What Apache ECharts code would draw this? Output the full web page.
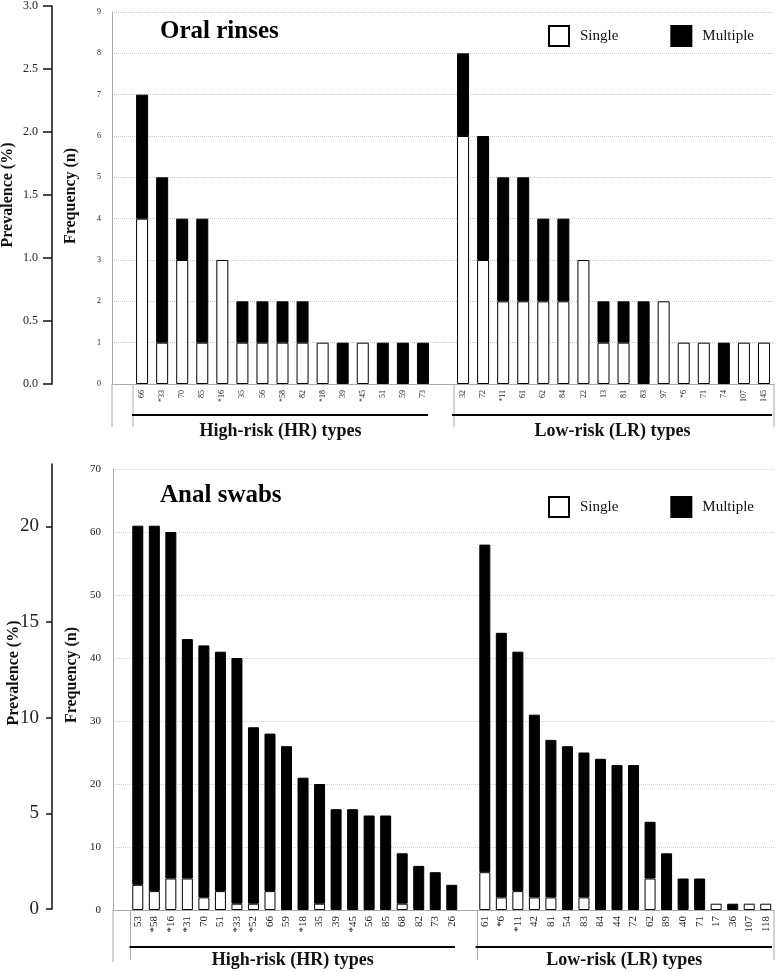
<!DOCTYPE html>
<html><head><meta charset="utf-8">
<script src="https://cdn.jsdelivr.net/npm/echarts@6/dist/echarts.min.js"></script>
<style>html,body{margin:0;padding:0;background:#fff}#c{width:778px;height:972px}</style>
</head><body><div id="c"></div><script>
// ---- Oral rinses ----
const oralHRTypes = ['66','*33','70','85','*16','35','56','*58','82','*18','39','*45','51','59','73'];
const oralHRSingle = [4,1,3,1,3,1,1,1,1,1,0,1,0,0,0];
const oralHRMultiple = [3,4,1,3,0,1,1,1,1,0,1,0,1,1,1];
const oralLRTypes = ['32','72','*11','61','62','84','22','13','81','83','97','*6','71','74','107','145'];
const oralLRSingle = [6,3,2,2,2,2,3,1,1,0,2,1,1,0,1,1];
const oralLRMultiple = [2,3,3,3,2,2,0,1,1,2,0,0,0,1,0,0];
// ---- Anal swabs ----
const analHRTypes = ['53','*58','*16','*31','70','51','*33','*52','66','59','*18','35','39','*45','56','85','68','82','73','26'];
const analHRSingle = [4,3,5,5,2,3,1,1,3,0,0,1,0,0,0,0,1,0,0,0];
const analHRMultiple = [57,58,55,38,40,38,39,28,25,26,21,19,16,16,15,15,8,7,6,4];
const analLRTypes = ['61','*6','*11','42','81','54','83','84','44','72','62','89','40','71','17','36','107','118'];
const analLRSingle = [6,2,3,2,2,0,2,0,0,0,5,0,0,0,1,0,1,1];
const analLRMultiple = [52,42,38,29,25,26,23,24,23,23,9,9,5,5,0,1,0,0];
// ---- axis ticks ----
const oralFreqMax = 9, oralFreqStep = 1;
const analFreqMax = 70, analFreqStep = 10;
const oralPrevTicks = [0,0.5,1.0,1.5,2.0,2.5,3.0];
const analPrevTicks = [0,5,10,15,20];

const FONT = "'Liberation Serif','Times New Roman',serif";
const nz = v => (v === 0 ? null : v);
const cats = (hr, lr) => ['', ...hr, ' ', ...lr];
const vals = (hr, lr) => [null, ...hr.map(nz), null, ...lr.map(nz)];

const oralCats = cats(oralHRTypes, oralLRTypes);
const analCats = cats(analHRTypes, analLRTypes);

const whiteStyle = {color:'#fff', borderColor:'#000', borderWidth:1};
const blackStyle = {color:'#000', borderColor:'#000', borderWidth:1};

const catAxis = (gi, data, fs, margin) => ({
  type:'category', gridIndex:gi, data:data, boundaryGap:true,
  axisLine:{show:true, lineStyle:{color:'#aaa', width:1}},
  axisTick:{show:false},
  axisLabel:{interval:0, rotate:90, fontSize:fs, fontFamily:FONT, color:'#222', margin:margin}
});

const legendCfg = top => ({top:top, left:543, data:['Single','Multiple'], icon:'rect', itemWidth:20, itemHeight:20, itemGap:52,
  selectedMode:false, textStyle:{fontSize:15, fontFamily:FONT, color:'#111', padding:[0,0,0,6]}});

const option = {
  animation:false,
  backgroundColor:'#fff',
  textStyle:{fontFamily:FONT},
  grid:[
    {left:112, top:12, width:662, height:372},
    {left:113, top:469, width:661, height:441},
    {left:52, top:6, width:1, height:378},
    {left:52, top:464, width:1, height:445}
  ],
  legend:[legendCfg(20), legendCfg(491)],
  xAxis:[
    catAxis(0, oralCats, 8, 6),
    catAxis(1, analCats, 11, 6),
    {type:'value', gridIndex:2, show:false, min:0, max:1},
    {type:'value', gridIndex:3, show:false, min:0, max:1}
  ],
  yAxis:[
    {type:'value', gridIndex:0, min:0, max:oralFreqMax, interval:oralFreqStep,
     axisLine:{show:true, lineStyle:{color:'#aaa'}}, axisTick:{show:false},
     axisLabel:{fontSize:8, fontFamily:FONT, color:'#222', margin:11},
     splitLine:{show:true, lineStyle:{color:'#c8c8c8', type:'dotted', width:1}}},
    {type:'value', gridIndex:1, min:0, max:analFreqMax, interval:analFreqStep,
     axisLine:{show:true, lineStyle:{color:'#aaa'}}, axisTick:{show:false},
     axisLabel:{fontSize:11, fontFamily:FONT, color:'#222', margin:12},
     splitLine:{show:true, lineStyle:{color:'#d0d0d0', type:'dotted', width:1}}},
    {type:'value', gridIndex:2, min:0, max:3, interval:0.5,
     axisLine:{show:true, lineStyle:{color:'#111', width:1.5}},
     axisTick:{show:true, inside:false, length:9, lineStyle:{color:'#111', width:1.5}},
     axisLabel:{fontSize:12, fontFamily:FONT, color:'#222', margin:14, formatter:v=>v.toFixed(1)},
     splitLine:{show:false}},
    {type:'value', gridIndex:3, min:0, max:23.26,
     axisLine:{show:true, lineStyle:{color:'#111', width:1.5}},
     axisTick:{show:true, inside:false, length:6, customValues:analPrevTicks, lineStyle:{color:'#111', width:1.5}},
     axisLabel:{fontSize:19, fontFamily:FONT, color:'#222', margin:13, customValues:analPrevTicks},
     splitLine:{show:false}}
  ],
  series:[
    {name:'Single', type:'bar', xAxisIndex:0, yAxisIndex:0, stack:'oral', barWidth:12,
     itemStyle:whiteStyle, data:vals(oralHRSingle, oralLRSingle)},
    {name:'Multiple', type:'bar', xAxisIndex:0, yAxisIndex:0, stack:'oral', barWidth:12,
     itemStyle:blackStyle, data:vals(oralHRMultiple, oralLRMultiple)},
    {name:'Single', type:'bar', xAxisIndex:1, yAxisIndex:1, stack:'anal', barWidth:11,
     itemStyle:whiteStyle, data:vals(analHRSingle, analLRSingle)},
    {name:'Multiple', type:'bar', xAxisIndex:1, yAxisIndex:1, stack:'anal', barWidth:11,
     itemStyle:blackStyle, data:vals(analHRMultiple, analLRMultiple)}
  ]
};

const chart = echarts.init(document.getElementById('c'), null, {renderer:'canvas'});
chart.setOption(option);

// ---- decorations computed from the axes ----
const px = (xi, idx) => chart.convertToPixel({xAxisIndex:xi}, idx);
const py = (yi, v) => chart.convertToPixel({yAxisIndex:yi}, v);
const g = [];
const vline = (x, y1, y2, color, w) => g.push({type:'line', shape:{x1:x, y1:y1, x2:x, y2:y2}, style:{stroke:color, lineWidth:w||1}, silent:true});
const hline = (x1, x2, y, color, w) => g.push({type:'line', shape:{x1:x1, y1:y, x2:x2, y2:y}, style:{stroke:color, lineWidth:w||1}, silent:true});
const txt = (x, y, s, font, rot) => g.push({type:'text', x:x, y:y, rotation:rot||0,
  style:{text:s, font:font, fill:'#111', align:'center', verticalAlign:'middle'}, silent:true});

function panel(xi, yi, nHR, nLR, ext, lineOff, titleOff, boxOff) {
  const slot = px(xi, 1) - px(xi, 0);
  const base = py(yi, 0);
  const axisX = px(xi, 0) - slot/2;
  vline(axisX, base, base + ext, '#aaa');
  const hrL = px(xi, 1) - slot/2, hrR = px(xi, nHR) + slot/2;
  const lrL = px(xi, nHR + 2) - slot/2, lrR = px(xi, nHR + 1 + nLR) + slot/2;
  vline(hrL + 1, base, base + boxOff, '#aaa');
  vline(lrL + 1, base, base + boxOff, '#aaa');
  vline(lrR, base, base + boxOff, '#aaa');
  hline(hrL, hrR - 5, base + lineOff, '#000', 2);
  hline(lrL - 1, lrR - 2, base + lineOff, '#000', 2);
  txt((hrL + hrR)/2 - 2, base + titleOff, 'High-risk (HR) types', "bold 18px " + FONT);
  txt((lrL + lrR)/2 - 1, base + titleOff, 'Low-risk (LR) types', "bold 18px " + FONT);
}
panel(0, 0, oralHRTypes.length, oralLRTypes.length, 43, 31, 47, 43);
panel(1, 1, analHRTypes.length, analLRTypes.length, 52, 37, 50, 50);

// titles
g.push({type:'text', x:160, y:32, style:{text:'Oral rinses', font:"bold 25px " + FONT, fill:'#000', align:'left', verticalAlign:'middle'}, silent:true});
g.push({type:'text', x:160, y:496, style:{text:'Anal swabs', font:"bold 25px " + FONT, fill:'#000', align:'left', verticalAlign:'middle'}, silent:true});
// axis titles
txt(8, 195, 'Prevalence (%)', "bold 16px " + FONT, Math.PI/2);
txt(71, 196, 'Frequency (n)', "bold 16px " + FONT, Math.PI/2);
txt(14, 673, 'Prevalence (%)', "bold 16px " + FONT, Math.PI/2);
txt(72, 675, 'Frequency (n)', "bold 16px " + FONT, Math.PI/2);

chart.setOption({graphic:{elements:g}});
</script></body></html>
